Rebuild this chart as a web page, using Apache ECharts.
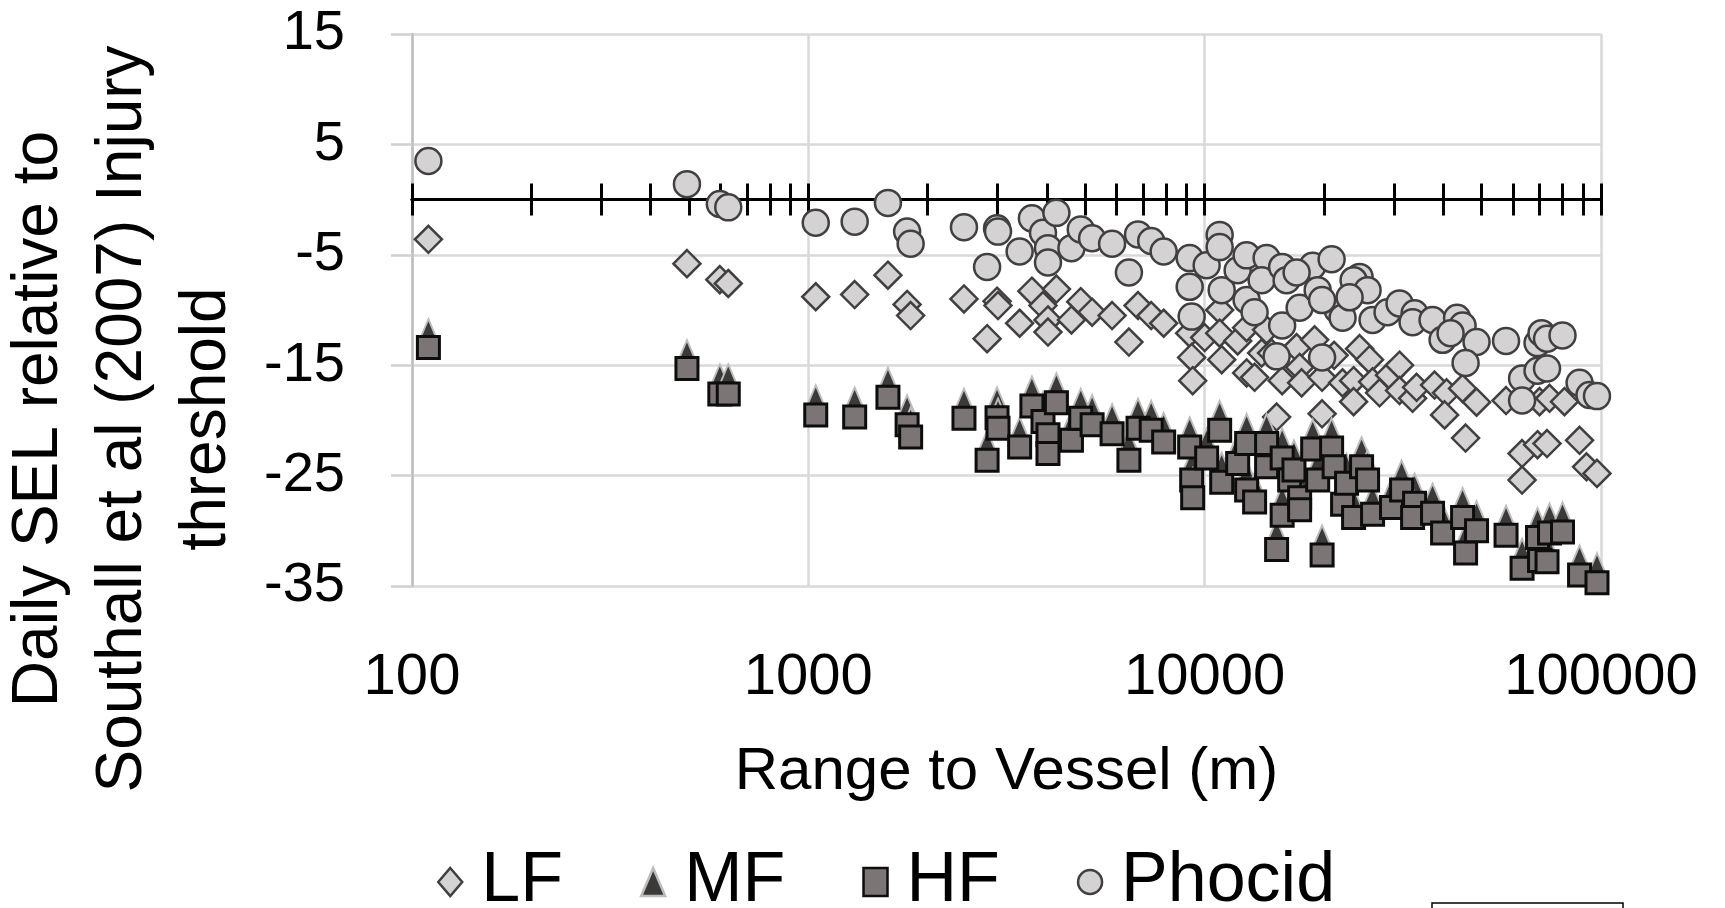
<!DOCTYPE html>
<html>
<head>
<meta charset="utf-8">
<script src="https://cdn.jsdelivr.net/npm/echarts@6/dist/echarts.min.js"></script>
<style>
html,body{margin:0;padding:0;background:#fff;}
#chart{width:1725px;height:908px;}
</style>
</head>
<body>
<div id="chart"></div>
<script>
// ---- data: [range (m), daily SEL relative to threshold (dB)] ----
const LF = [
  [110,-3.6],[494,-5.8],[598,-7.25],[628,-7.6],[1044,-8.8],[1309,-8.6],[1588,-6.85],[1775,-9.5],[1812,-10.5],
  [2470,-9.0],[2825,-12.6],[2993,-9.2],[3010,-9.6],[3413,-11.2],[3665,-8.3],[3909,-9.6],[4024,-10.9],[4024,-12.0],
  [4226,-8.1],[4612,-10.9],[4868,-9.25],[5200,-10.2],[5840,-10.5],[6440,-12.9],[6790,-9.6],[7330,-10.5],[7880,-11.2],
  [9166,-12.1],[9273,-14.3],[9327,-16.4],[10000,-12.5],[10910,-10.0],[11040,-14.5],[10910,-12.1],[12112,-12.8],
  [12760,-11.6],[12760,-15.7],[13366,-16.1],[13924,-13.9],[14332,-11.8],[14750,-13.9],[15189,-19.7],[15686,-16.4],
  [17061,-13.4],[17362,-15.2],[17563,-16.6],[18946,-12.7],[19783,-16.1],[19783,-19.4],[21215,-14.1],[22284,-16.6],
  [23755,-16.4],[23755,-18.3],[24595,-13.5],[26065,-14.5],[26524,-16.5],[27626,-17.5],[29273,-15.9],[31023,-15.0],
  [31023,-17.3],[33468,-18.0],[34253,-17.0],[38026,-16.8],[40775,-17.5],[40303,-19.5],[44744,-17.1],[48529,-18.35],
  [45534,-21.6],[57597,-18.2],[69970,-18.3],[74157,-18.0],[80886,-18.3],[63223,-23.0],[69162,-22.2],[73085,-22.1],
  [63223,-25.4],[88288,-21.8],[91935,-24.2],[97700,-24.8]
];
const MF = [
  [110,-12.0],[494,-13.9],[598,-16.1],[628,-16.1],[1044,-18.0],[1309,-18.2],[1588,-16.4],[1775,-18.9],[1812,-20.0],
  [2470,-18.3],[2825,-22.1],[2993,-18.2],[3010,-19.2],[3413,-20.9],[3665,-17.2],[3909,-18.6],[4024,-19.8],[4024,-21.5],
  [4226,-16.9],[4612,-20.3],[4868,-18.3],[5200,-18.9],[5840,-19.7],[6440,-22.1],[6790,-19.2],[7330,-19.4],[7880,-20.5],
  [9166,-20.9],[9273,-23.9],[9327,-25.5],[10116,-21.9],[10910,-19.4],[11040,-24.1],[12112,-22.4],[12760,-20.6],
  [12760,-24.8],[13366,-25.9],[14332,-20.6],[14332,-22.7],[15189,-30.2],[15686,-21.9],[15686,-27.1],[16385,-23.9],
  [16800,-23.0],[17362,-25.5],[17362,-26.6],[18730,-21.1],[19280,-23.9],[19783,-30.7],[20909,-21.0],[21215,-22.7],
  [22284,-26.1],[22807,-24.2],[23755,-27.3],[24883,-22.7],[25764,-23.9],[26524,-27.0],[29613,-26.4],[31393,-24.8],
  [33860,-26.0],[33468,-27.3],[37584,-26.9],[39837,-28.7],[44744,-27.3],[45534,-30.5],[48529,-28.5],[57597,-28.9],
  [69162,-29.1],[74157,-28.7],[79960,-28.6],[63223,-31.9],[69970,-31.2],[73085,-31.3],[88288,-32.5],[97700,-33.2]
];
const HF = [
  [110,-13.4],[494,-15.3],[598,-17.6],[628,-17.6],[1044,-19.5],[1309,-19.7],[1588,-17.9],[1775,-20.4],[1812,-21.5],
  [2470,-19.8],[2825,-23.6],[2993,-19.75],[3010,-20.7],[3413,-22.4],[3665,-18.7],[3909,-20.1],[4024,-21.3],[4024,-23.0],
  [4226,-18.4],[4612,-21.8],[4868,-19.8],[5200,-20.4],[5840,-21.2],[6440,-23.6],[6790,-20.7],[7330,-20.9],[7880,-21.95],
  [9166,-22.4],[9273,-25.4],[9327,-27.0],[10116,-23.4],[10910,-20.9],[11040,-25.6],[12112,-23.9],[12760,-22.1],
  [12760,-26.3],[13366,-27.4],[14332,-22.1],[14332,-24.2],[15189,-31.7],[15686,-23.4],[15686,-28.6],[16385,-25.4],
  [16800,-24.5],[17362,-27.0],[17362,-28.1],[18730,-22.6],[19280,-25.4],[19783,-32.2],[20909,-22.5],[21215,-24.2],
  [22284,-27.6],[22807,-25.7],[23755,-28.8],[24883,-24.2],[25764,-25.4],[26524,-28.5],[29613,-27.9],[31393,-26.3],
  [33860,-27.5],[33468,-28.8],[37584,-28.4],[39837,-30.2],[44744,-28.8],[45534,-32.0],[48529,-30.0],[57597,-30.4],
  [69162,-30.6],[74157,-30.2],[79960,-30.1],[63223,-33.4],[69970,-32.7],[73085,-32.8],[88288,-34.0],[97700,-34.7]
];
const PHOCID = [
  [110,3.5],[494,1.4],[598,-0.4],[628,-0.7],[1044,-2.1],[1309,-2.0],[1588,-0.3],[1775,-2.9],[1812,-4.0],
  [2470,-2.5],[2825,-6.1],[2993,-2.6],[3010,-2.9],[3413,-4.7],[3665,-1.7],[3909,-3.0],[4024,-4.4],[4024,-5.7],
  [4226,-1.2],[4612,-4.4],[4868,-2.7],[5200,-3.5],[5840,-4.0],[6440,-6.6],[6790,-3.15],[7330,-3.75],[7880,-4.7],
  [9166,-5.3],[10116,-5.95],[10910,-3.2],[10910,-4.3],[9166,-7.9],[11040,-8.2],[9273,-10.6],[12112,-6.4],
  [12760,-5.05],[12760,-9.1],[13366,-10.2],[14332,-5.3],[13924,-7.3],[15686,-6.1],[16100,-7.3],[15686,-11.4],
  [15189,-14.2],[17362,-9.8],[18730,-6.0],[19280,-8.2],[19783,-14.3],[20909,-5.4],[21647,-10.0],[17061,-6.6],
  [19783,-9.1],[22284,-10.7],[24595,-7.0],[23755,-7.3],[25764,-8.2],[23210,-8.85],[26524,-10.9],[28934,-10.2],
  [31023,-9.4],[33860,-10.3],[33468,-11.1],[37584,-10.9],[39837,-12.7],[43335,-10.7],[44744,-11.4],[41728,-12.1],
  [48529,-12.9],[45534,-14.8],[57597,-12.8],[69162,-13.0],[70781,-12.1],[73085,-12.6],[79960,-12.3],[63223,-16.2],
  [69162,-15.5],[73085,-15.3],[63223,-18.2],[88288,-16.6],[93541,-17.7],[97700,-17.8]
];
// ---- axes ----
const X_MIN = 100, X_MAX = 100000;
const Y_MIN = -35, Y_MAX = 15, Y_STEP = 10;
const X_MINOR_TICKS = [100,200,300,400,500,600,700,800,900,1000,2000,3000,4000,5000,6000,7000,8000,9000,
  10000,20000,30000,40000,50000,60000,70000,80000,90000,100000];
const SERIES_NAMES = ['LF','MF','HF','Phocid'];
const X_TITLE = 'Range to Vessel (m)';
const Y_TITLE = 'Daily SEL relative to\nSouthall et al (2007) Injury\nthreshold';

const FONT = '"Liberation Sans", Arial, sans-serif';
const chart = echarts.init(document.getElementById('chart'), null, {renderer: 'canvas'});

const zeroAxis = (pos, yIdx) => ({
  type: 'log', logBase: 10, min: X_MIN, max: X_MAX, position: pos,
  axisLine: {show: true, onZero: true, onZeroAxisIndex: yIdx, lineStyle: {color: '#000', width: 3}},
  axisTick: {show: true, inside: false, length: 16, customValues: X_MINOR_TICKS, lineStyle: {color: '#000', width: 3}},
  axisLabel: {show: false},
  splitLine: {show: false}
});

chart.setOption({
  animation: false,
  backgroundColor: '#fff',
  grid: {left: 412, top: 34, width: 1189, height: 552, containLabel: false},
  xAxis: [
    {
      type: 'log', logBase: 10, min: X_MIN, max: X_MAX, position: 'bottom',
      axisLine: {show: false, onZero: false},
      axisTick: {show: false},
      axisLabel: {fontSize: 58, color: '#000', fontFamily: FONT, margin: 63,
        formatter: v => String(Math.round(v))},
      splitLine: {show: true, lineStyle: {color: '#d9d9d9', width: 2.5}},
      name: X_TITLE, nameLocation: 'middle', nameGap: 156,
      nameTextStyle: {fontSize: 60, color: '#000', fontFamily: FONT}
    },
    zeroAxis('bottom', 0),
    zeroAxis('top', 1)
  ],
  yAxis: [
    {
      type: 'value', min: Y_MIN, max: Y_MAX, interval: Y_STEP,
      axisLine: {show: true, onZero: false, lineStyle: {color: '#bfbfbf', width: 2.5}},
      axisTick: {show: true, length: 21, lineStyle: {color: '#d0d0d0', width: 2.5}},
      axisLabel: {fontSize: 56, color: '#000', fontFamily: FONT, margin: 67},
      splitLine: {show: true, lineStyle: {color: '#d9d9d9', width: 2.5}}
    },
    {type: 'value', min: Y_MIN, max: Y_MAX, interval: Y_STEP, show: false, axisLine: {onZero: false}}
  ],
  legend: {
    data: SERIES_NAMES, left: 432, top: 842, orient: 'horizontal',
    itemWidth: 24, itemHeight: 28, itemGap: 77, symbolKeepAspect: false,
    itemStyle: {borderWidth: 2.5},
    textStyle: {fontSize: 70, lineHeight: 70, color: '#000', fontFamily: FONT, padding: [0, 0, 0, 14]}
  },
  graphic: [
    {
      type: 'text', x: 123, y: 419, rotation: Math.PI / 2,
      style: {text: Y_TITLE, fontSize: 64, fontFamily: FONT, fill: '#000',
        align: 'center', verticalAlign: 'middle', lineHeight: 84}
    },
    {
      type: 'rect', shape: {x: 1432, y: 903, width: 191, height: 30},
      style: {fill: '#fff', stroke: '#000', lineWidth: 1.5}
    }
  ],
  series: [
    {name: 'LF', type: 'scatter', data: LF, symbol: 'diamond', symbolSize: 27, z: 2,
      itemStyle: {color: '#d4d2d3', borderColor: '#404040', borderWidth: 2.5, opacity: 1}},
    {name: 'MF', type: 'scatter', data: MF, symbol: 'triangle', symbolSize: [22, 26], z: 3,
      itemStyle: {color: '#3b3a38', borderColor: '#bdbdbd', borderWidth: 2, opacity: 1}},
    {name: 'HF', type: 'scatter', data: HF, symbol: 'rect', symbolSize: 22, z: 4,
      itemStyle: {color: '#7b7675', borderColor: '#0d0d0d', borderWidth: 3, opacity: 1}},
    {name: 'Phocid', type: 'scatter', data: PHOCID, symbol: 'circle', symbolSize: 26, z: 5,
      itemStyle: {color: '#d4d2d3', borderColor: '#404040', borderWidth: 2.5, opacity: 1}}
  ]
});
</script>
</body>
</html>
